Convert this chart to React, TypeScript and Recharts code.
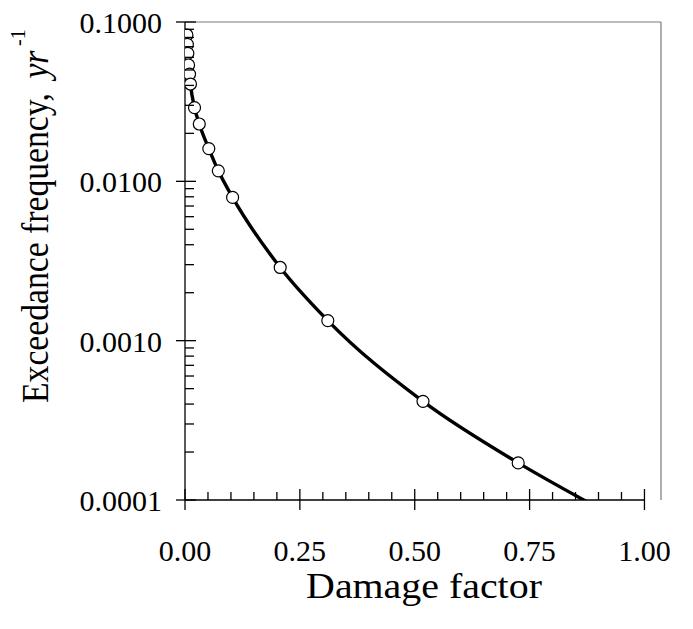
import React from "react";
import {
  ComposedChart,
  Line,
  Scatter,
  XAxis,
  YAxis,
  ReferenceLine,
  Label,
} from "recharts";

// Observed points (damage factor vs exceedance frequency, 1/yr)
const damage = [0.004, 0.005, 0.006, 0.0075, 0.0095, 0.0115, 0.02, 0.03, 0.05, 0.07, 0.1, 0.2, 0.3, 0.5, 0.7];
const frequency = [0.0829, 0.0724, 0.0636, 0.0537, 0.0471, 0.0408, 0.029, 0.0229, 0.01605, 0.01164, 0.00793, 0.00288, 0.001337, 0.000416, 0.000171];

// Where the fitted curve leaves the plot (below the axis)
const curveEndDamage = 0.857;
const curveEndFrequency = 0.000093;

const xTicks = [0, 0.05, 0.1, 0.15, 0.2, 0.25, 0.3, 0.35, 0.4, 0.45, 0.5, 0.55, 0.6, 0.65, 0.7, 0.75, 0.8, 0.85, 0.9, 0.95, 1.0];
const xMajorTicks = [0, 0.25, 0.5, 0.75, 1.0];
const xTickLabels = ["0.00", "0.25", "0.50", "0.75", "1.00"];
const xAxisMax = 1.036;

const yTicks = [
  0.0001, 0.0002, 0.0003, 0.0004, 0.0005, 0.0006, 0.0007, 0.0008, 0.0009,
  0.001, 0.002, 0.003, 0.004, 0.005, 0.006, 0.007, 0.008, 0.009,
  0.01, 0.02, 0.03, 0.04, 0.05, 0.06, 0.07, 0.08, 0.09, 0.1,
];
const yMajorTicks = [0.0001, 0.001, 0.01, 0.1];
const yTickLabels = ["0.0001", "0.0010", "0.0100", "0.1000"];

const pointData = damage.map((d, i) => ({ x: d, y: frequency[i] }));
const curveData = [...pointData, { x: curveEndDamage, y: curveEndFrequency }];

const FONT = '"Liberation Serif", "Times New Roman", serif';

const near = (a: number, b: number) => Math.abs(a - b) < 1e-9 * Math.max(1, Math.abs(b));

const XTick = (props: any) => {
  const { x, y, payload } = props;
  const idx = xMajorTicks.findIndex((t) => near(t, payload.value));
  if (idx >= 0) {
    return (
      <g>
        <line x1={x} x2={x} y1={y - 11} y2={y + 10} stroke="#000" strokeWidth={1.3} />
        <text x={x} y={y + 61} textAnchor="middle" style={{ fontFamily: FONT }} fontSize={30} fill="#000">
          {xTickLabels[idx]}
        </text>
      </g>
    );
  }
  return <line x1={x} x2={x} y1={y - 8} y2={y} stroke="#000" strokeWidth={1.3} />;
};

const YTick = (props: any) => {
  const { x, y, payload } = props;
  const idx = yMajorTicks.findIndex((t) => near(t, payload.value));
  if (idx >= 0) {
    return (
      <g>
        <line x1={x - 9} x2={x + 11} y1={y} y2={y} stroke="#000" strokeWidth={1.3} />
        <text x={x - 23} y={y + 11} textAnchor="end" style={{ fontFamily: FONT }} fontSize={30} fill="#000">
          {yTickLabels[idx]}
        </text>
      </g>
    );
  }
  return <line x1={x} x2={x + 9} y1={y} y2={y} stroke="#000" strokeWidth={1.3} />;
};

const YTitle = () => (
  <g transform="translate(48,403) rotate(-90) scale(0.91,1)">
    <text x={0} y={0} textAnchor="start" style={{ fontFamily: FONT }} fontSize={37} fill="#000">
      Exceedance frequency,
      <tspan dx={16} fontStyle="italic">yr</tspan>
      <tspan dx={5} dy={-23} fontSize={22}>-1</tspan>
    </text>
  </g>
);

const XTitle = () => (
  <g transform="translate(424,598) scale(1.14,1)">
    <text x={0} y={0} textAnchor="middle" style={{ fontFamily: FONT }} fontSize={35} fill="#000">
      Damage factor
    </text>
  </g>
);

const Marker = (props: any) => {
  const { cx, cy } = props;
  return <circle cx={cx} cy={cy} r={6} fill="#fff" stroke="#000" strokeWidth={1.2} />;
};

export default function App() {
  return (
    <div style={{ position: "absolute", left: 0, top: 0, background: "#fff" }}>
      <ComposedChart
        width={693}
        height={629}
        margin={{ top: 22, right: 32, bottom: 0, left: 0 }}
        style={{ fontFamily: FONT }}
      >
        <XAxis
          type="number"
          dataKey="x"
          domain={[0, xAxisMax]}
          ticks={xTicks}
          interval={0}
          height={129}
          axisLine={false}
          tickLine={false}
          tickSize={0}
          tickMargin={0}
          tick={<XTick />}
          allowDataOverflow
        >
          <Label content={<XTitle />} />
        </XAxis>
        <XAxis
          xAxisId="data"
          type="number"
          dataKey="x"
          domain={[0, 1]}
          hide
          allowDataOverflow
        />
        <YAxis
          type="number"
          dataKey="y"
          scale="log"
          domain={[0.0001, 0.1]}
          ticks={yTicks}
          interval={0}
          width={185}
          allowDataOverflow
          axisLine={{ stroke: "#000", strokeWidth: 1.3 }}
          tickLine={false}
          tickSize={0}
          tickMargin={0}
          tick={<YTick />}
        >
          <Label content={<YTitle />} />
        </YAxis>
        <ReferenceLine y={0.1} stroke="#7a7a7a" strokeWidth={1.2} ifOverflow="visible" />
        <ReferenceLine x={xAxisMax} stroke="#7a7a7a" strokeWidth={1.2} ifOverflow="visible" />
        <ReferenceLine
          segment={[
            { x: 0, y: 0.0001 },
            { x: 1, y: 0.0001 },
          ]}
          stroke="#000"
          strokeWidth={1.3}
          ifOverflow="visible"
        />
        <Line
          xAxisId="data"
          data={curveData}
          dataKey="y"
          type="monotone"
          stroke="#000"
          strokeWidth={3.4}
          dot={false}
          activeDot={false}
          isAnimationActive={false}
        />
        <Scatter
          xAxisId="data"
          data={pointData}
          dataKey="y"
          shape={<Marker />}
          isAnimationActive={false}
        />
      </ComposedChart>
    </div>
  );
}
